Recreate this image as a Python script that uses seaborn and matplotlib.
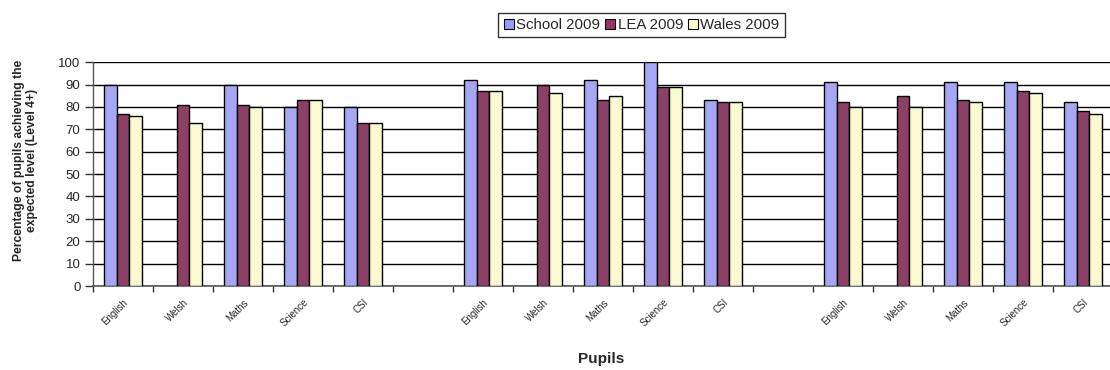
import numpy as np
import pandas as pd
import matplotlib
matplotlib.use("Agg")
import matplotlib.pyplot as plt
from matplotlib.patches import Patch
from matplotlib.ticker import MultipleLocator, FixedLocator
import seaborn as sns

# Subjects per key stage block, with an empty slot between blocks
subjects = ["English", "Welsh", "Maths", "Science", "CSI"]
slots = [0, 1, 2, 3, 4, 6, 7, 8, 9, 10, 12, 13, 14, 15, 16]
school_2009 = [90, np.nan, 90, 80, 80, 92, np.nan, 92, 100, 83, 91, np.nan, 91, 91, 82]
lea_2009 = [77, 81, 81, 83, 73, 87, 90, 83, 89, 82, 82, 85, 83, 87, 78]
wales_2009 = [76, 73, 80, 83, 73, 87, 86, 85, 89, 82, 80, 80, 82, 86, 77]
series_names = ["School 2009", "LEA 2009", "Wales 2009"]
colors = ["#9999FF", "#993366", "#FFFFCC"]

rows = []
for name, vals in zip(series_names, [school_2009, lea_2009, wales_2009]):
    for pos, v in zip(slots, vals):
        rows.append({"slot": pos, "series": name, "value": v})
df = pd.DataFrame(rows)

sns.set_style("white")
plt.rcParams["font.family"] = ["Liberation Sans", "DejaVu Sans"]

fig = plt.figure(figsize=(11.1, 3.7), dpi=100)
ax = fig.add_axes([0.0838, 0.227, 0.9162, 0.605])

sns.barplot(data=df, x="slot", y="value", hue="series", hue_order=series_names,
            palette=colors, native_scale=True, width=0.63, dodge=True,
            edgecolor="black", linewidth=1.0, errorbar=None, legend=False, ax=ax,
            zorder=3)

ax.set_xlim(-0.5, 16.45)
ax.set_ylim(0, 100)

# horizontal gridlines
ax.yaxis.set_major_locator(MultipleLocator(10))
ax.grid(axis="y", color="black", linewidth=1.0, zorder=0)
ax.grid(axis="x", visible=False)
ax.set_axisbelow(True)

for side in ["top", "right"]:
    ax.spines[side].set_visible(False)
ax.spines["left"].set_color("#555555")
ax.spines["bottom"].set_color("#555555")
ax.spines["left"].set_linewidth(1.0)
ax.spines["bottom"].set_linewidth(1.2)

# tick marks on slot boundaries, labels on slot centres
ax.xaxis.set_major_locator(FixedLocator(np.arange(-0.5, 17, 1.0)))
ax.set_xticklabels([])
ax.xaxis.set_minor_locator(FixedLocator(slots))
ax.set_xticklabels(subjects * 3, minor=True, rotation=45, ha="right",
                   rotation_mode="anchor", fontsize=7)
ax.tick_params(axis="x", which="major", direction="out", length=4, width=1,
               color="#333333", bottom=True)
ax.tick_params(axis="x", which="minor", length=0, pad=8)
ax.tick_params(axis="y", direction="out", length=6, width=1, color="#333333",
               left=True, labelsize=9.5, pad=3)

ax.set_xlabel("Pupils", fontsize=11, fontweight="bold", labelpad=17)
ax.set_ylabel("Percentage of pupils achieving the\nexpected level (Level 4+)",
              fontsize=8.7, fontweight="bold", linespacing=1.1)
ax.yaxis.set_label_coords(-0.054, 0.56)

handles = [Patch(facecolor=c, edgecolor="black", linewidth=0.8) for c in colors]
fig.legend(handles, series_names, loc="center", bbox_to_anchor=(0.578, 0.932),
           ncol=3, frameon=True, fancybox=False, edgecolor="black",
           fontsize=10.8, handlelength=0.7, handleheight=0.7,
           handletextpad=0.15, columnspacing=0.3, borderpad=0.35)

fig.savefig("out.png", dpi=100)
